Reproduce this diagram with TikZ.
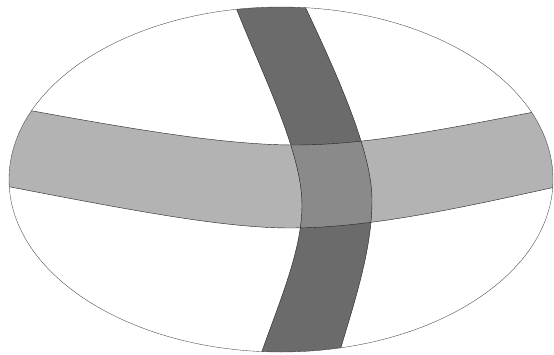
\documentclass[tikz,border=0pt]{standalone}
\definecolor{lightband}{RGB}{179,179,179}
\definecolor{darkband}{RGB}{107,107,107}
\definecolor{crossband}{RGB}{138,138,138}
\begin{document}
\begin{tikzpicture}[x=0.05cm,y=-0.05cm,
    rim/.style={draw=black!75,line width=0.5pt},
    seam/.style={draw=black!85,line width=0.6pt}
  ]
  \useasboundingbox (0,0) rectangle (554,354);
  \coordinate (globe) at (281,179.5);
  \def\hband{(0,105) .. controls (120,127) and (220,145) .. (295,145)
    .. controls (370,145) and (450,128) .. (560,107) -- (560,186)
    .. controls (460,208) and (370,228) .. (290,228)
    .. controls (220,228) and (120,208) .. (0,185) -- cycle}
  \def\vband{(233,0) .. controls (260,70) and (302,150) .. (302,205)
    .. controls (302,250) and (280,300) .. (261,354) -- (339,354)
    .. controls (355,300) and (372,250) .. (372,200)
    .. controls (372,150) and (335,70) .. (302,0) -- cycle}
  \begin{scope}
    \clip (globe) ellipse [x radius=272,y radius=172.5];
    \fill[lightband] \hband;
    \fill[darkband] \vband;
    \begin{scope}
      \clip \hband;
      \fill[crossband] \vband;
    \end{scope}
    \draw[seam] \hband;
    \draw[seam] \vband;
  \end{scope}
  \draw[rim] (globe) ellipse [x radius=272,y radius=172.5];
\end{tikzpicture}
\end{document}
